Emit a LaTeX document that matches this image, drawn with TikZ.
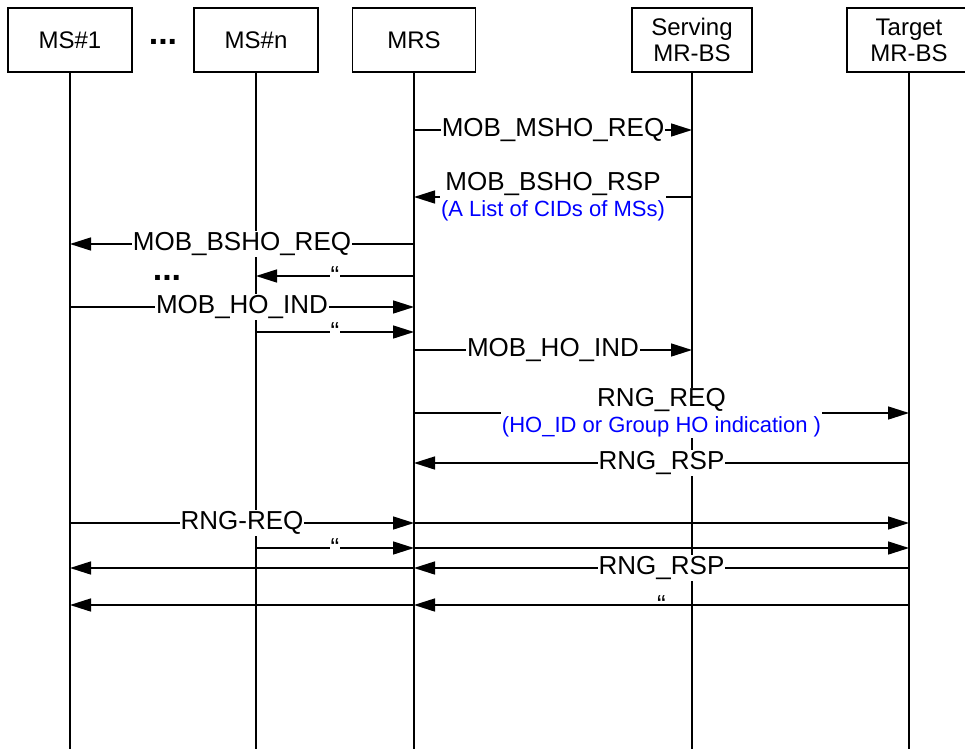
\documentclass[tikz,border=0pt]{standalone}
\usepackage{fontspec}
\setmainfont{Liberation Sans}
\usetikzlibrary{arrows.meta}
\newcommand{\bluenote}[1]{{\color{blue}\fontsize{22}{24}\selectfont #1}}

\begin{document}
\begin{tikzpicture}[x=1pt, y=-1pt,
	box/.style={draw, line width=1.3pt, fill=white, minimum width=124pt, minimum height=64pt, align=center, inner sep=0pt, font=\fontsize{24}{26}\selectfont},
	life/.style={line width=1.3pt},
	msg/.style={line width=1.5pt, -{Triangle[length=21pt, width=13pt]}},
	lbl/.style={fill=white, inner sep=1pt, align=center, font=\fontsize{26}{27}\selectfont},
	quo/.style={inner sep=1pt, font=\fontsize{26}{27}\selectfont},
	more/.style={font=\fontsize{34}{34}\selectfont\bfseries}]
	\useasboundingbox (0,0) rectangle (965,749);
	%entities
	\node[box] (ms1) at (70,40) {MS\#1};
	\node[box] (msn) at (256,40) {MS\#n};
	\node[box, minimum width=123pt] (mrs) at (414,40) {MRS};
	\node[box, minimum width=120pt] (srv) at (692,40) {Serving\\MR-BS};
	\node[box] (tgt) at (909,40) {Target\\MR-BS};
	\node[more] (dots1) at (163,42) {...};
	\coordinate (bot) at (0,749);
	
	%lifelines
	\foreach \e in {ms1,msn,mrs,srv,tgt}
		\draw[life] (\e.south) -- (\e |- bot);
	
	%handover request
	\draw[msg] (mrs |- 0,130) -- node[lbl] (l1) {MOB\_MSHO\_REQ} (srv |- 0,130);
	\draw[msg] (srv |- 0,197) -- node[lbl] (l2) {MOB\_BSHO\_RSP\\[-1pt]\bluenote{(A List of CIDs of MSs)}} (mrs |- 0,197);
	\draw[msg] (mrs |- 0,244) -- node[lbl] (l3) {MOB\_BSHO\_REQ} (ms1 |- 0,244);
	\draw[msg] (mrs |- 0,276) -- node[lbl] (l4) {\textquotedblleft} (msn |- 0,276);
	\node[more] (dots2) at (167,278) {...};
	
	%handover indication
	\draw[msg] (ms1 |- 0,307) -- node[lbl] (l5) {MOB\_HO\_IND} (mrs |- 0,307);
	\draw[msg] (msn |- 0,332) -- node[lbl] (l6) {\textquotedblleft} (mrs |- 0,332);
	\draw[msg] (mrs |- 0,350) -- node[lbl] (l7) {MOB\_HO\_IND} (srv |- 0,350);
	
	%ranging
	\draw[msg] (mrs |- 0,413) -- node[lbl] (l8) {RNG\_REQ\\[-1pt]\bluenote{(HO\_ID or Group HO indication )}} (tgt |- 0,413);
	\draw[msg] (tgt |- 0,463) -- node[lbl] (l9) {RNG\_RSP} (mrs |- 0,463);
	\draw[msg] (ms1 |- 0,523) -- node[lbl] (l10) {RNG-REQ} (mrs |- 0,523);
	\draw[msg] (mrs |- 0,523) -- (tgt |- 0,523);
	\draw[msg] (msn |- 0,548) -- node[lbl] (l11) {\textquotedblleft} (mrs |- 0,548);
	\draw[msg] (mrs |- 0,548) -- (tgt |- 0,548);
	\draw[msg] (tgt |- 0,568) -- node[lbl] (l12) {RNG\_RSP} (mrs |- 0,568);
	\draw[msg] (mrs |- 0,568) -- (ms1 |- 0,568);
	\draw[msg] (tgt |- 0,605) -- node[quo] (l13) {\textquotedblleft} (mrs |- 0,605);
	\draw[msg] (mrs |- 0,605) -- (ms1 |- 0,605);
\end{tikzpicture}
\end{document}
